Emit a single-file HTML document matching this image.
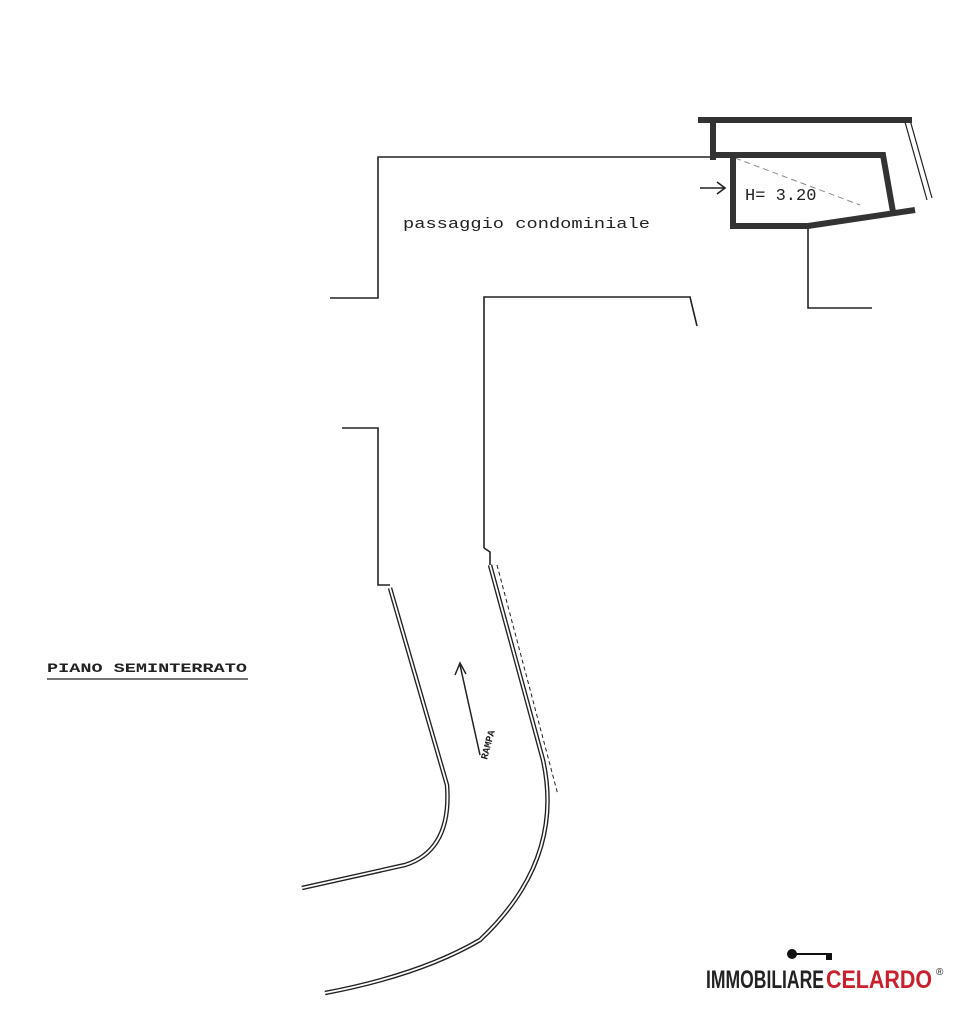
<!DOCTYPE html>
<html><head><meta charset="utf-8"><style>
body{margin:0;width:972px;height:1024px;background:#fff;overflow:hidden;position:relative}
svg{position:absolute;left:0;top:0}
.t{font-family:"Liberation Mono",monospace;fill:#222}
</style></head><body>
<svg width="972" height="1024" viewBox="0 0 972 1024">
<g fill="none" stroke="#222" stroke-width="1.6">
<polyline points="330,298 378,298 378,157 712,157"/>
<polyline points="484,548 484,297 690,297 697,326"/>
<polyline points="342,428 378,428 378,585 390,585"/>
<polyline points="484,548 490,552 490,565"/>
<path d="M390,588 L447,785 Q452,850 405,865 L302,888" stroke-width="4.5"/>
<path d="M390,588 L447,785 Q452,850 405,865 L302,888" stroke="#fff" stroke-width="1.8"/>
<path d="M490,565 L543,760 Q565,860 480,940 Q420,975 325,993" stroke-width="4.5"/>
<path d="M490,565 L543,760 Q565,860 480,940 Q420,975 325,993" stroke="#fff" stroke-width="1.8"/>
<path d="M497,565 L558,795" stroke-dasharray="4,3" stroke-width="1"/>
<polyline points="808,226 808,308 872,308"/>
<line x1="910" y1="120" x2="932" y2="198" stroke-width="1.2"/>
<line x1="905" y1="122" x2="927" y2="200" stroke-width="1.2"/>
<path d="M700,188 L725,188 M717,182 L725,188 L717,194"/>
<path d="M480,755 L460,665 M455,675 L460,663 L466,674" stroke-width="1.5"/>
<line x1="735" y1="158" x2="860" y2="205" stroke-dasharray="6,4" stroke-width="1" stroke="#888"/>
</g>
<g fill="none" stroke="#333" stroke-width="6">
<polyline points="698,120 912,120"/>
<polyline points="713,120 713,160"/>
<polyline points="712,155 883,155 893,212"/>
<polyline points="733,155 733,226 808,226 915,210"/>
</g>
<text x="403" y="228" class="t" font-size="15" textLength="247" lengthAdjust="spacingAndGlyphs">passaggio condominiale</text>
<text x="745" y="200" class="t" font-size="17" fill="#444">H= 3.20</text>
<text x="47" y="672" class="t" font-size="13" font-weight="bold" textLength="200" lengthAdjust="spacingAndGlyphs">PIANO SEMINTERRATO</text>
<line x1="47" y1="679" x2="248" y2="679" stroke="#222" stroke-width="1.2"/>
<text x="0" y="0" class="t" font-size="10" font-weight="bold" transform="translate(487,760) rotate(-75)">RAMPA</text>
<circle cx="792" cy="954" r="5" fill="#111"/>
<line x1="792" y1="954" x2="832" y2="954" stroke="#111" stroke-width="2"/>
<rect x="826" y="954" width="6" height="6" fill="#111"/>
<text x="706" y="988" font-family="Liberation Sans,sans-serif" font-weight="bold" font-size="25" fill="#222" textLength="118" lengthAdjust="spacingAndGlyphs">IMMOBILIARE</text>
<text x="826" y="988" font-family="Liberation Sans,sans-serif" font-weight="bold" font-size="25" fill="#c8202c" textLength="106" lengthAdjust="spacingAndGlyphs">CELARDO</text>
<text x="936" y="975" font-family="Liberation Sans,sans-serif" font-size="10" fill="#222">®</text>
</svg>
</body></html>
